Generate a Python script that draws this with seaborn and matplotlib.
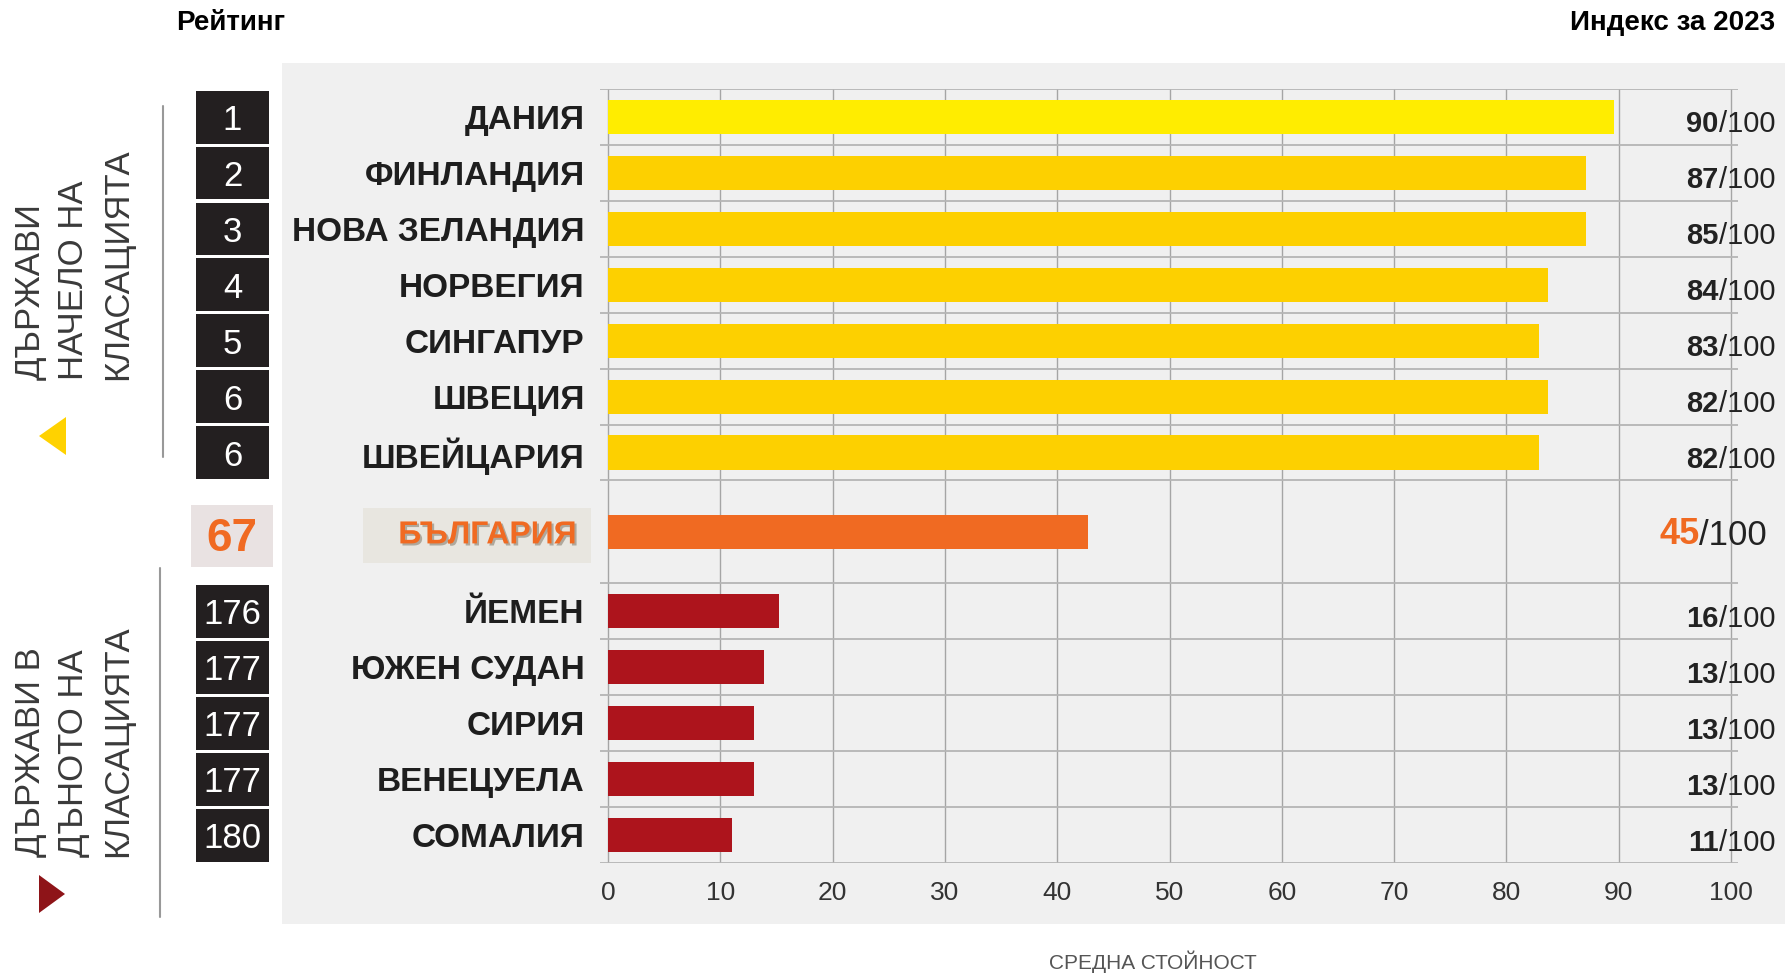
import numpy as np
import pandas as pd
import seaborn as sns
import matplotlib.pyplot as plt
import matplotlib.transforms as mtransforms
import matplotlib.patheffects as pe
from matplotlib.patches import Rectangle, Polygon
from matplotlib.lines import Line2D

# data
countries = ["ДАНИЯ", "ФИНЛАНДИЯ", "НОВА ЗЕЛАНДИЯ", "НОРВЕГИЯ", "СИНГАПУР",
             "ШВЕЦИЯ", "ШВЕЙЦАРИЯ", "БЪЛГАРИЯ", "ЙЕМЕН", "ЮЖЕН СУДАН",
             "СИРИЯ", "ВЕНЕЦУЕЛА", "СОМАЛИЯ"]
ranks = ["1", "2", "3", "4", "5", "6", "6", "67",
         "176", "177", "177", "177", "180"]
bar_values = [89.6, 87.1, 87.1, 83.7, 82.9, 83.7, 82.9,
              42.7, 15.2, 13.9, 13.0, 13.0, 11.0]
scores = [90, 87, 85, 84, 83, 82, 82, 45, 16, 13, 13, 13, 11]
groups = ["top"] * 7 + ["bg"] + ["bottom"] * 5
x_ticks = list(range(0, 101, 10))

group_colors = {"top": "#FDD000", "bg": "#F06A22", "bottom": "#AD141C"}
palette = {c: group_colors[g] for c, g in zip(countries, groups)}
palette["ДАНИЯ"] = "#FFED00"

# row layout: 7 rows, a taller band for Bulgaria, 5 rows
GAP = 1.84
positions = []
for i, g in enumerate(groups):
    if g == "top":
        positions.append(i + 0.5)
    elif g == "bg":
        positions.append(7 + GAP / 2)
    else:
        positions.append(7 + GAP + (i - 8) + 0.5)
row_edges = list(range(0, 8)) + [7 + GAP + k for k in range(6)]
y_bottom = row_edges[-1]

df = pd.DataFrame({"country": countries, "value": bar_values, "pos": positions})

sns.set_style("white")
plt.rcParams["font.family"] = ["Liberation Sans", "DejaVu Sans"]

W, H = 1785, 973


def fx(px):
    return px / W


def fy(py):
    return 1 - py / H


fig = plt.figure(figsize=(W / 100, H / 100), dpi=100)
fig.patch.set_facecolor("white")

# grey panel behind the chart
fig.patches.append(Rectangle((fx(282), fy(924)), fx(1785) - fx(282), (924 - 63) / H,
                             transform=fig.transFigure, facecolor="#F0F0F0",
                             edgecolor="none", zorder=-1))

ax = fig.add_axes([fx(600), fy(863), 1138 / W, 774 / H])
ax.set_facecolor("none")

sns.barplot(data=df, x="value", y="pos", hue="country", palette=palette,
            orient="h", native_scale=True, width=0.61, saturation=1,
            dodge=False, legend=False, linewidth=0, ax=ax, zorder=3)

ax.set_xlim(-0.71, 100.62)
ax.set_ylim(y_bottom, 0)
for s in ax.spines.values():
    s.set_visible(False)

ax.set_xticks(x_ticks)
ax.set_xticklabels([str(t) for t in x_ticks], fontsize=19, color="#333333")
ax.grid(axis="x", color="#A5A5A5", linewidth=1.0, zorder=1)
ax.grid(axis="y", visible=False)
ax.hlines(row_edges, -0.71, 100.62, color="#B5B5B5", linewidth=1.3, zorder=1)
ax.tick_params(axis="both", length=0)
ax.tick_params(axis="x", pad=13)
ax.set_xlabel("")
ax.set_ylabel("")

# country names as y tick labels (Bulgaria gets its own highlighted label)
ax.set_yticks(positions)
ax.set_yticklabels([c if g != "bg" else "" for c, g in zip(countries, groups)],
                   fontweight="bold", fontsize=24, color="#1E1E1E")
ax.tick_params(axis="y", pad=11)

trans = mtransforms.blended_transform_factory(fig.transFigure, ax.transData)

for pos, rank, country, score, g in zip(positions, ranks, countries, scores, groups):
    if g == "bg":
        ax.add_patch(Rectangle((fx(191), pos - 0.49), fx(273) - fx(191), 1.11,
                               transform=trans, facecolor="#E9E2E2",
                               edgecolor="none", clip_on=False, zorder=2))
        ax.text(fx(232), pos + 0.03, rank, transform=trans, ha="center", va="center_baseline",
                fontsize=33, fontweight="bold", color="#F06A22", clip_on=False)
        ax.add_patch(Rectangle((fx(363), pos - 0.42), fx(591) - fx(363), 0.98,
                               transform=trans, facecolor="#E8E6E0",
                               edgecolor="none", clip_on=False, zorder=2))
        ax.text(fx(577), pos, country, transform=trans, ha="right", va="center_baseline",
                fontsize=23, fontweight="bold", color="#F06A22", clip_on=False,
                path_effects=[pe.SimplePatchShadow(offset=(1.5, -1.5), shadow_rgbFace="#8A8070", alpha=0.6),
                              pe.Normal()])
        t = ax.text(fx(1767), pos, "/100", transform=trans, ha="right",
                    va="center_baseline", fontsize=25, color="#222222", clip_on=False)
        ax.annotate(str(score), xy=(0, 0), xycoords=t, ha="right", va="bottom",
                    fontsize=26, fontweight="bold", color="#F06A22", annotation_clip=False)
    else:
        ax.add_patch(Rectangle((fx(196), pos - 0.47), fx(269) - fx(196), 0.945,
                               transform=trans, facecolor="#231F20",
                               edgecolor="none", clip_on=False, zorder=2))
        ax.text(fx(232.5), pos, rank, transform=trans, ha="center", va="center_baseline",
                fontsize=25, color="white", clip_on=False)
        t = ax.text(fx(1775), pos + 0.08, "/100", transform=trans, ha="right",
                    va="center_baseline", fontsize=21, color="#222222", clip_on=False)
        ax.annotate(str(score), xy=(0, 0), xycoords=t, ha="right", va="bottom",
                    fontsize=21, fontweight="bold", color="#222222", annotation_clip=False)

# headers and axis caption
fig.text(fx(176), fy(23), "Рейтинг", ha="left", va="center", fontsize=20,
         fontweight="bold", color="black")
fig.text(fx(1775), fy(23), "Индекс за 2023", ha="right", va="center", fontsize=20,
         fontweight="bold", color="black")
fig.text(fx(1153), fy(962), "СРЕДНА СТОЙНОСТ", ha="center", va="center",
         fontsize=15, color="#555555")

# side captions with markers
fig.text(fx(14), fy(380), "ДЪРЖАВИ\nНАЧЕЛО НА\nКЛАСАЦИЯТА", rotation=90,
         ha="left", va="bottom", multialignment="left", linespacing=1.4,
         fontsize=25, color="#3A3A3A")
fig.text(fx(14), fy(857), "ДЪРЖАВИ В\nДЪНОТО НА\nКЛАСАЦИЯТА", rotation=90,
         ha="left", va="bottom", multialignment="left", linespacing=1.4,
         fontsize=25, color="#3A3A3A")

fig.patches.append(Polygon([(fx(66), fy(417)), (fx(66), fy(455)), (fx(39), fy(436))],
                           closed=True, transform=fig.transFigure,
                           facecolor="#FFD200", edgecolor="none"))
fig.patches.append(Polygon([(fx(39), fy(875)), (fx(39), fy(913)), (fx(65), fy(894))],
                           closed=True, transform=fig.transFigure,
                           facecolor="#8E1418", edgecolor="none"))
fig.lines.append(Line2D([fx(163), fx(163)], [fy(106), fy(457)],
                        transform=fig.transFigure, color="#999999", linewidth=1.5))
fig.lines.append(Line2D([fx(160), fx(160)], [fy(568), fy(917)],
                        transform=fig.transFigure, color="#999999", linewidth=1.5))

fig.savefig("out.png", dpi=100)
